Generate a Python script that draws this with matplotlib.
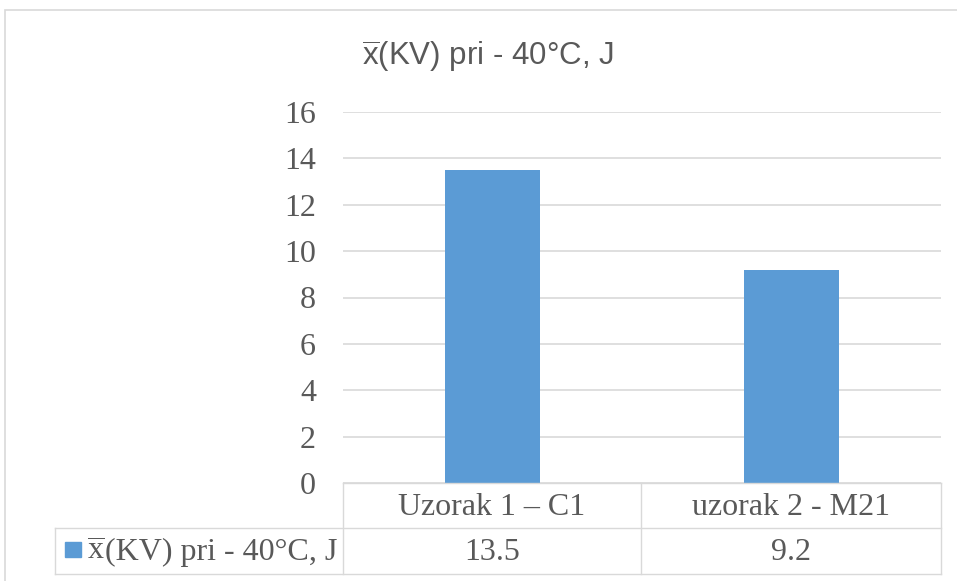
import matplotlib.pyplot as plt
from matplotlib.lines import Line2D
from matplotlib.patches import Rectangle

W, H = 957, 581

plt.rcParams['mathtext.fontset'] = 'custom'
plt.rcParams['mathtext.rm'] = 'Liberation Serif'
plt.rcParams['mathtext.sf'] = 'Liberation Sans'

categories = ['Uzorak 1 – C1', 'uzorak 2 - M21']
values = [13.5, 9.2]
xbar_serif = r'$\overline{\mathrm{x}}$'
series_rest = '(KV) pri - 40°C, J'
title_text = r'$\overline{\mathsf{x}}$(KV) pri - 40°C, J'
yticks = [0, 2, 4, 6, 8, 10, 12, 14, 16]

bar_color = '#5B9BD5'
grid_color = '#D9D9D9'
text_color = '#595959'
serif = ['Liberation Serif', 'DejaVu Serif']
sans = ['Liberation Sans', 'DejaVu Sans']
fs = 23


def fx(px):
    return px / W


def fy(py):
    return 1 - py / H


def hline(x0, x1, y):
    fig.add_artist(Line2D([fx(x0), fx(x1)], [fy(y), fy(y)], color=grid_color, lw=1.0))


def vline(x, y0, y1):
    fig.add_artist(Line2D([fx(x), fx(x)], [fy(y0), fy(y1)], color=grid_color, lw=1.0))


fig = plt.figure(figsize=(W / 100, H / 100), dpi=100)

# outer chart border
fig.add_artist(Rectangle((fx(5), fy(600)), 1, fy(10) - fy(600), fill=False,
                         edgecolor=grid_color, lw=1.2))

left, right, top, bottom = 343, 941, 112, 483
ax = fig.add_axes([fx(left), fy(bottom), fx(right - left), fy(top) - fy(bottom)])
x = range(len(categories))
ax.bar(x, values, width=0.315, color=bar_color, zorder=3)
ax.set_xlim(-0.5, len(categories) - 0.5)
ax.set_ylim(0, 16)
ax.set_yticks(yticks)
ax.set_yticklabels([str(t) for t in yticks], fontfamily=serif, fontsize=fs,
                   color=text_color)
ax.set_xticks([])
ax.tick_params(axis='y', length=0, pad=19.5)
ax.grid(axis='y', color=grid_color, lw=1.2, zorder=0)
for s in ax.spines.values():
    s.set_visible(False)

fig.text(fx(488), fy(65), title_text, ha='center', va='baseline',
         fontfamily=sans, fontsize=22.5, color=text_color)

# data table under the axis
col_edges = [left, 641, right]
row_top, row_mid, row_bot = 483, 528, 574
hline(left, right, row_top)
hline(55, right, row_mid)
hline(55, right, row_bot)
vline(55, row_mid, row_bot)
for cx in col_edges:
    vline(cx, row_top, row_bot)

for i, (cat, val) in enumerate(zip(categories, values)):
    xc = (col_edges[i] + col_edges[i + 1]) / 2
    fig.text(fx(xc), fy(515), cat, ha='center', va='baseline',
             fontfamily=serif, fontsize=fs, color=text_color)
    fig.text(fx(xc), fy(560), f'{val}', ha='center', va='baseline',
             fontfamily=serif, fontsize=fs, color=text_color)

# legend key + series name in the row header
fig.add_artist(Rectangle((fx(65), fy(557)), fx(16), fy(542) - fy(557),
                         color=bar_color))
xbar = fig.text(fx(87), fy(560), xbar_serif, ha='left', va='baseline',
                fontsize=fs, color=text_color)
ax.annotate(series_rest, xy=(1, 0), xycoords=xbar, ha='left', va='bottom',
            fontfamily=serif, fontsize=fs, color=text_color,
            annotation_clip=False)

fig.savefig('out.png', dpi=100)
